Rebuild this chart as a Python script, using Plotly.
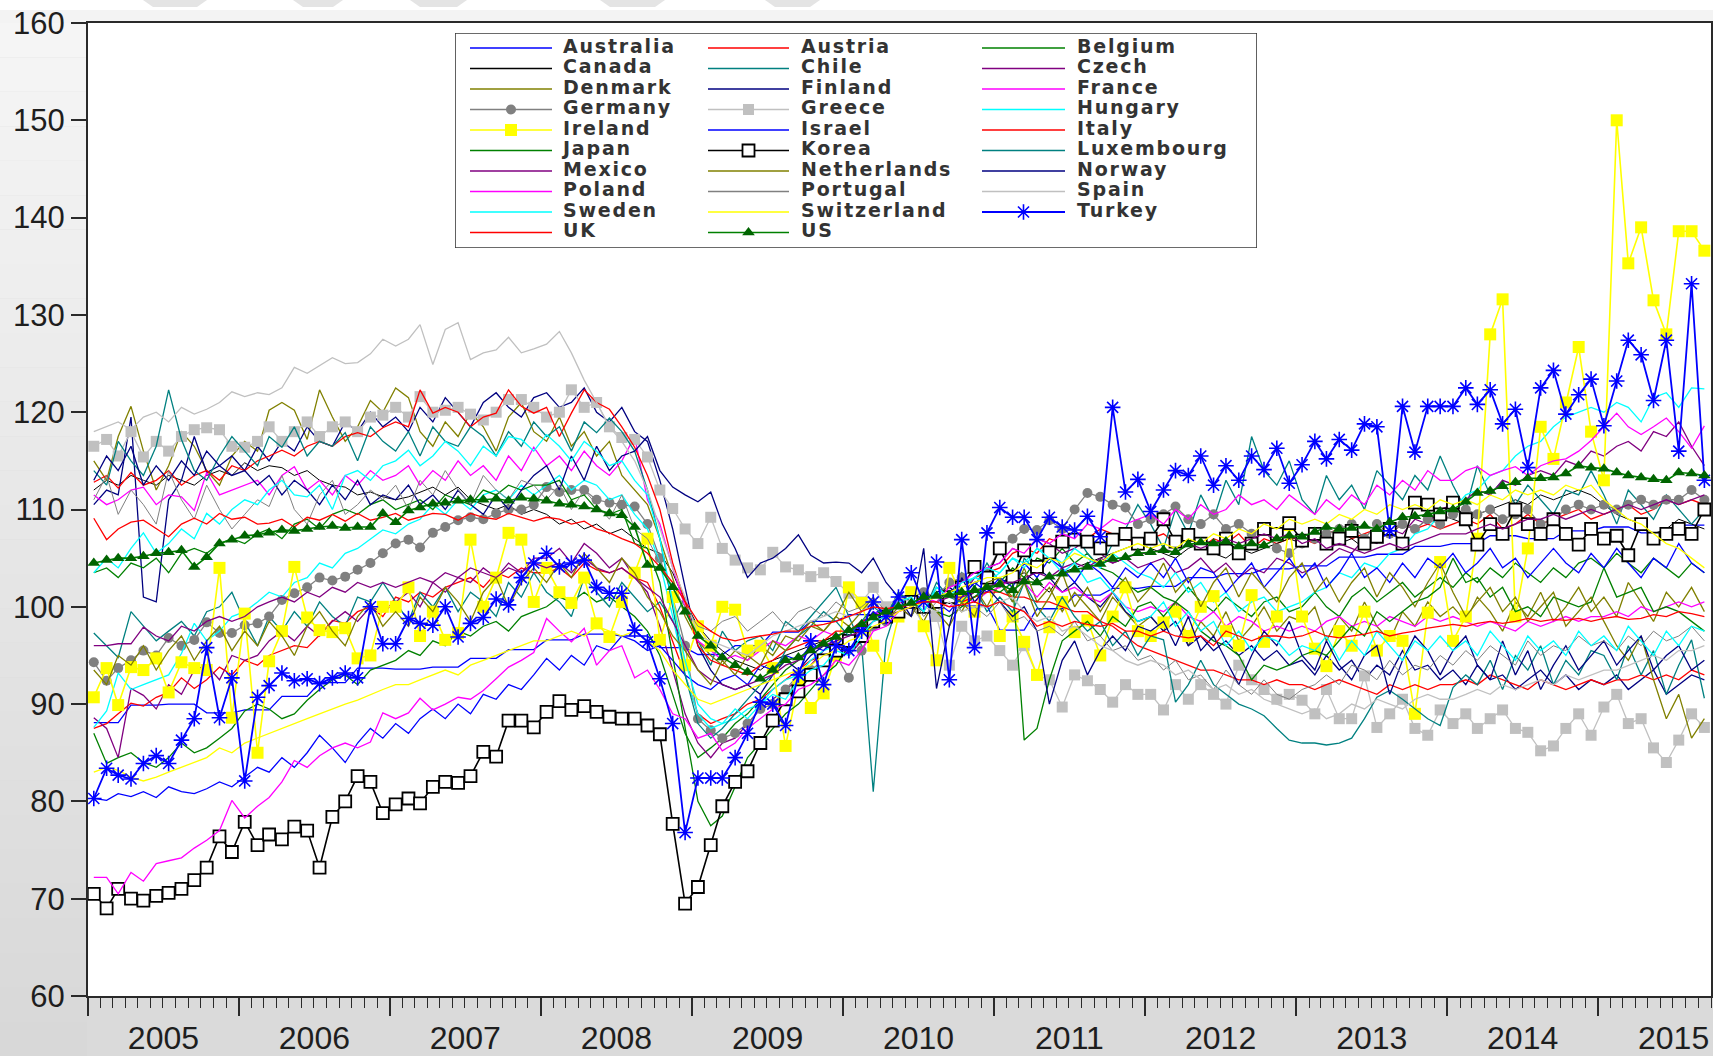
import plotly.graph_objects as go

# ---------------------------------------------------------------
# Monthly industrial production indices (2010 = 100), 2005M01-2015M09
# ---------------------------------------------------------------
years = list(range(2005, 2016))
month_dates = [f"{y}-{m:02d}-15" for y in years for m in range(1, 13)][:129]

australia = [
    88.1, 88.1, 88.1, 89.9, 89.9, 89.9, 90.0, 90.0, 90.0, 89.1, 89.1, 89.1,
    89.4, 89.4, 89.4, 90.8, 90.8, 90.8, 92.2, 92.2, 92.2, 93.7, 93.7, 93.7,
    93.6, 93.6, 93.6, 93.8, 93.8, 93.8, 94.7, 94.7, 94.7, 95.6, 95.6, 95.6,
    96.6, 96.6, 96.6, 97.2, 97.2, 97.2, 97.0, 97.0, 97.0, 95.8, 95.8, 95.8,
    95.1, 95.1, 95.1, 96.0, 96.0, 96.0, 97.4, 97.4, 97.4, 98.5, 98.5, 98.5,
    99.2, 99.2, 99.2, 100.1, 100.1, 100.1, 100.6, 100.6, 100.6, 100.1, 100.1, 100.1,
    97.6, 97.6, 97.6, 99.8, 99.8, 99.8, 101.2, 101.2, 101.2, 101.9, 101.9, 101.9,
    102.1, 102.1, 102.1, 103.0, 103.0, 103.0, 103.4, 103.4, 103.4, 103.9, 103.9, 103.9,
    104.2, 104.2, 104.2, 105.1, 105.1, 105.1, 105.4, 105.4, 105.4, 106.2, 106.2, 106.2,
    106.5, 106.5, 106.5, 107.3, 107.3, 107.3, 107.0, 107.0, 107.0, 107.8, 107.8, 107.8,
    108.2, 108.2, 108.2, 107.6, 107.6, 107.6, 108.4, 108.4, 108.4,
]
austria = [
    87.5, 88.0, 89.0, 90.1, 89.8, 90.7, 91.2, 92.7, 91.6, 92.5, 93.8, 93.0,
    94.5, 94.0, 95.0, 95.5, 96.0, 95.8, 97.1, 98.6, 98.3, 99.5, 100.0, 99.0,
    101.0, 100.5, 101.5, 101.0, 102.0, 102.5, 103.0, 102.0, 103.5, 103.0, 104.0, 103.5,
    103.5, 104.0, 103.0, 104.5, 103.8, 103.5, 104.0, 103.0, 102.5, 100.0, 96.5, 93.0,
    89.0, 88.0, 88.5, 89.0, 90.0, 90.5, 91.5, 92.5, 93.5, 94.5, 95.0, 95.5,
    95.5, 96.5, 98.0, 98.5, 99.5, 100.0, 101.0, 100.5, 101.5, 102.0, 103.0, 103.5,
    104.0, 105.5, 106.0, 105.5, 107.0, 106.5, 107.5, 107.0, 108.0, 107.5, 107.0, 106.5,
    107.0, 107.5, 106.5, 107.5, 106.0, 107.0, 106.5, 107.5, 106.0, 107.0, 106.5, 107.0,
    107.0, 106.5, 107.5, 108.0, 107.0, 107.5, 108.0, 107.5, 108.5, 108.0, 108.5, 108.0,
    108.5, 109.0, 108.5, 109.5, 108.0, 108.5, 109.5, 108.5, 109.0, 109.5, 110.0, 109.0,
    109.5, 110.0, 110.5, 109.5, 110.0, 111.0, 110.5, 111.0, 110.5,
]
belgium = [
    87.0, 83.9, 84.5, 85.0, 84.0, 83.5, 84.5, 86.0, 85.0, 85.5, 86.5, 87.5,
    89.3, 90.0, 89.5, 88.5, 89.0, 90.4, 91.5, 92.5, 93.0, 92.0, 93.5, 94.0,
    94.5, 95.5, 95.0, 96.5, 96.0, 97.5, 97.0, 98.0, 98.5, 97.5, 99.0, 99.5,
    100.0, 101.0, 100.5, 101.5, 100.5, 101.0, 100.0, 99.0, 97.5, 95.0, 91.0, 87.0,
    84.5, 85.5, 86.5, 88.0, 89.0, 90.5, 92.0, 93.5, 94.5, 95.5, 96.5, 97.0,
    97.5, 98.5, 99.0, 100.0, 99.5, 100.5, 101.0, 100.0, 101.5, 100.5, 101.0, 101.5,
    102.5, 104.0, 103.0, 105.0, 104.5, 106.0, 104.5, 105.5, 104.0, 103.5, 102.5, 101.5,
    102.0, 101.0, 100.5, 102.0, 100.5, 99.5, 101.0, 100.0, 99.0, 100.5, 101.0, 99.5,
    100.0, 101.5, 100.0, 99.0, 101.0, 102.0, 100.5, 101.5, 102.5, 101.0, 102.0, 103.0,
    102.0, 103.5, 102.5, 104.0, 103.0, 104.5, 103.5, 102.5, 104.0, 103.0, 104.5, 105.0,
    104.0, 105.5, 104.5, 103.5, 105.0, 104.0, 103.0, 104.5, 103.5,
]
canada = [
    112.0, 113.0, 112.5, 113.5, 113.0, 112.5, 113.5, 113.0, 112.5, 113.5, 114.0, 113.5,
    114.8, 114.0, 114.5, 114.3, 113.5, 114.0, 113.0, 112.5, 112.3, 111.5, 111.8, 111.3,
    111.0, 111.3, 111.8, 112.3, 111.5, 112.3, 111.0, 110.5, 110.0, 110.5, 109.5, 110.0,
    109.5, 108.5, 109.0, 108.0, 108.5, 107.5, 108.0, 107.0, 106.0, 105.5, 103.5, 100.5,
    98.0, 96.5, 95.5, 94.5, 94.0, 93.5, 94.5, 95.0, 95.5, 96.0, 96.5, 97.0,
    97.5, 98.5, 99.0, 99.5, 100.0, 100.5, 100.0, 100.5, 101.0, 100.5, 101.5, 102.0,
    102.5, 103.0, 103.5, 102.5, 101.5, 103.5, 104.0, 104.5, 105.0, 105.5, 106.0, 106.5,
    106.0, 105.5, 105.0, 106.0, 106.5, 105.5, 105.0, 106.0, 105.5, 106.0, 106.5, 107.0,
    106.5, 107.0, 107.5, 106.5, 107.0, 106.0, 107.5, 108.0, 108.5, 108.0, 109.0, 109.5,
    109.0, 108.5, 109.5, 110.0, 110.5, 111.0, 110.5, 111.5, 111.0, 111.5, 112.0, 111.5,
    110.5, 109.5, 109.0, 108.5, 107.5, 108.0, 109.0, 108.5, 108.0,
]
chile = [
    97.3, 96.0, 94.8, 99.5, 98.0, 96.5, 97.5, 98.5, 97.0, 99.5, 100.0, 101.5,
    98.5, 96.0, 99.0, 97.5, 99.5, 98.0, 100.5, 99.0, 98.0, 101.0, 100.5, 102.5,
    100.5, 98.5, 101.5, 100.0, 102.0, 99.5, 101.5, 100.5, 99.0, 102.5, 101.0, 103.5,
    101.5, 100.5, 99.0, 103.0, 101.5, 100.0, 102.5, 101.0, 99.5, 100.5, 98.5, 101.0,
    96.5, 94.0, 97.5, 95.5, 96.5, 97.0, 95.5, 98.5, 97.5, 99.0, 100.5, 102.0,
    99.0, 96.0, 81.0, 96.5, 100.5, 101.5, 99.5, 102.5, 101.0, 103.5, 102.0, 104.5,
    102.5, 100.5, 105.0, 103.5, 106.0, 104.0, 107.5, 105.5, 104.0, 106.5, 108.0, 110.5,
    108.5, 106.0, 110.0, 107.5, 111.5, 109.0, 113.0, 110.5, 117.5, 114.0, 112.5, 115.0,
    111.0, 109.5, 113.5, 111.0, 112.5, 110.0, 114.0, 112.5, 111.0, 113.5, 112.0, 115.5,
    112.5, 110.0, 114.5, 111.5, 113.0, 110.5, 112.5, 111.0, 109.5, 112.0, 111.5, 114.0,
    111.5, 108.5, 112.0, 110.5, 109.0, 111.5, 110.0, 108.5, 110.0,
]
czech = [
    88.6, 87.5, 84.5, 91.6, 90.9, 89.5, 92.0, 91.0, 93.5, 94.0, 92.5, 95.0,
    94.5, 95.0, 96.5, 97.5, 96.5, 98.0, 97.0, 98.5, 99.5, 98.5, 100.0, 99.5,
    100.5, 101.5, 100.0, 102.5, 101.5, 103.0, 102.5, 104.0, 103.0, 104.5, 103.5, 105.0,
    105.0, 106.0, 104.5, 106.5, 105.5, 104.0, 105.0, 103.0, 101.5, 98.0, 93.5, 89.0,
    86.0, 84.5, 86.0, 86.5, 88.0, 89.5, 90.5, 91.5, 92.5, 94.0, 95.5, 96.5,
    95.0, 96.5, 98.0, 99.5, 99.0, 100.5, 100.0, 101.5, 102.0, 101.0, 103.0, 104.0,
    104.5, 106.0, 105.5, 107.0, 106.5, 105.5, 106.0, 107.0, 105.5, 104.5, 105.0, 104.0,
    104.5, 105.0, 103.5, 104.0, 105.0, 103.5, 104.5, 103.0, 104.0, 103.5, 105.0, 104.5,
    103.5, 104.0, 105.0, 106.0, 105.5, 107.0, 106.5, 108.0, 107.5, 109.0, 108.5, 110.0,
    110.5, 111.0, 112.0, 111.5, 113.0, 112.5, 113.5, 114.0, 113.5, 115.0, 114.5, 116.0,
    115.5, 116.5, 117.0, 116.0, 118.0, 117.5, 119.0, 116.5, 114.5,
]
denmark = [
    115.0, 113.0, 117.5, 120.6, 116.0, 112.0, 114.5, 118.0, 116.5, 114.0, 112.5, 115.5,
    117.0, 116.0, 120.2, 121.0, 120.2, 117.2, 122.3, 119.5, 117.0, 118.5, 121.2, 120.0,
    122.5, 121.5, 118.0, 116.5, 119.0, 117.5, 120.0, 118.5, 116.0, 119.5, 121.0, 118.0,
    117.0, 119.5, 116.5, 118.0, 115.5, 117.0, 113.5, 112.0, 110.5, 107.0, 103.0, 99.0,
    96.5, 95.0, 94.0, 95.5, 94.5, 96.0, 95.0, 97.0, 96.5, 98.0, 97.5, 99.0,
    98.0, 99.5, 100.5, 99.0, 101.5, 100.0, 98.5, 101.0, 100.5, 99.5, 102.0, 100.0,
    102.5, 101.0, 104.0, 100.5, 102.0, 99.5, 101.5, 100.0, 98.5, 101.0, 99.5, 98.0,
    99.0, 97.5, 100.5, 96.0, 98.5, 97.0, 99.5, 96.5, 98.0, 100.0, 97.5, 99.0,
    98.5, 100.0, 96.5, 99.0, 97.5, 100.5, 98.0, 96.5, 99.5, 98.0, 100.5, 99.0,
    100.0, 98.5, 101.0, 99.5, 97.5, 100.5, 99.0, 101.5, 98.5, 100.0, 102.0, 99.5,
    101.0, 99.0, 102.5, 100.5, 98.5, 101.5, 100.0, 102.0, 99.5,
]
finland = [
    110.5, 112.0, 111.5, 119.5, 101.0, 100.5, 111.0, 113.0, 117.5, 113.8, 114.5, 115.5,
    114.0, 116.5, 115.0, 117.0, 116.0, 118.5, 117.0, 116.5, 119.0, 118.0, 120.0, 118.5,
    119.5, 118.0, 120.5, 119.0, 121.5, 120.0, 118.5, 121.0, 122.0, 120.5, 119.5, 121.5,
    122.0, 120.5, 121.0, 122.5, 120.0, 119.0, 120.5, 118.0, 117.0, 113.0, 108.0, 102.0,
    96.0, 93.5, 92.0, 91.5, 92.0, 91.0, 93.0, 94.5, 93.5, 95.0, 96.0, 95.5,
    96.5, 97.5, 98.0, 99.5, 100.5, 101.0, 99.5, 101.5, 102.0, 101.0, 102.5, 103.0,
    102.0, 103.5, 102.5, 104.0, 103.0, 101.5, 102.5, 101.0, 100.0, 101.5, 99.5, 98.5,
    99.0, 97.5, 98.5, 96.0, 97.0, 95.5, 96.5, 95.0, 96.0, 94.5, 95.5, 94.0,
    94.5, 93.0, 95.0, 93.5, 94.5, 92.5, 94.0, 93.0, 95.5, 93.5, 94.0, 92.5,
    93.5, 92.0, 94.0, 92.5, 93.0, 91.5, 92.5, 93.5, 92.0, 93.0, 91.5, 92.5,
    92.0, 93.0, 91.5, 92.5, 93.5, 91.0, 92.0, 93.0, 92.5,
]
france = [
    111.5, 110.5, 111.0, 112.0, 112.3, 110.5, 111.5, 111.3, 109.9, 113.8, 111.5, 112.0,
    112.5, 113.0, 111.5, 113.5, 114.4, 112.0, 113.0, 111.5, 113.5, 112.5, 114.0, 113.0,
    113.5, 114.5, 112.5, 114.0, 113.0, 115.0, 113.5, 114.5, 113.0, 115.5, 114.0, 116.4,
    114.5, 115.5, 114.0, 116.0, 114.5, 113.5, 115.0, 117.5, 111.0, 108.5, 104.0, 100.0,
    96.5, 95.5, 94.5, 95.0, 94.5, 95.5, 96.5, 96.0, 97.0, 96.5, 97.5, 97.0,
    97.5, 98.0, 99.5, 99.0, 100.5, 100.0, 101.0, 100.5, 100.0, 101.0, 100.5, 101.5,
    102.0, 103.0, 102.5, 101.0, 102.5, 101.5, 102.0, 101.0, 100.5, 101.5, 100.0, 99.5,
    100.0, 99.5, 100.5, 99.0, 98.5, 99.5, 98.0, 99.0, 98.5, 97.5, 98.0, 97.5,
    98.0, 97.5, 98.5, 99.0, 98.0, 98.5, 98.0, 99.0, 98.5, 98.0, 99.0, 98.5,
    99.0, 98.5, 98.0, 98.5, 98.0, 97.5, 98.5, 98.0, 98.5, 99.0, 98.5, 99.0,
    99.0, 99.5, 99.0, 100.0, 99.5, 100.0, 100.5, 100.0, 100.5,
]
germany = [
    94.3, 92.4, 93.7, 94.5, 95.5, 95.0, 96.8, 96.0, 96.6, 98.4, 97.3, 97.3,
    98.1, 98.3, 99.0, 100.7, 101.4, 102.0, 103.0, 102.7, 103.1, 103.8, 104.5, 105.5,
    106.5, 106.9, 106.1, 107.6, 108.2, 108.9, 109.2, 109.0, 109.6, 110.0, 110.0, 110.5,
    112.3, 111.8, 112.0, 112.0, 111.0, 110.7, 110.5, 110.3, 108.5, 105.0, 101.0, 96.0,
    88.5, 87.3, 86.5, 87.0, 88.0, 89.5, 90.0, 91.5, 93.0, 93.5, 94.5, 95.0,
    92.7, 95.5, 98.0, 98.5, 99.5, 101.0, 101.5, 101.0, 102.5, 103.0, 104.0, 103.5,
    106.0, 107.0, 108.0, 107.9, 108.9, 108.0, 110.0, 111.7, 111.3, 110.5, 110.2, 108.5,
    109.0, 109.5, 110.3, 109.0, 108.5, 109.5, 108.0, 108.5, 107.5, 108.0, 106.0, 105.5,
    106.5, 107.0, 107.5, 108.0, 108.5, 107.0, 108.5, 107.5, 108.5, 108.0, 109.0, 108.5,
    109.5, 110.0, 109.5, 110.0, 109.0, 109.5, 110.0, 108.5, 109.0, 110.0, 110.5, 110.0,
    110.5, 110.0, 110.5, 111.0, 110.5, 111.0, 111.0, 112.0, 111.0,
]
greece = [
    116.5, 117.2, 115.5, 118.0, 115.4, 117.0, 116.0, 117.5, 118.2, 118.4, 118.2, 116.5,
    116.4, 117.0, 118.5, 117.0, 118.0, 119.0, 117.5, 118.5, 119.0, 118.0, 119.5, 119.7,
    120.5, 119.5, 121.6, 120.0, 120.2, 120.5, 119.8, 119.2, 120.0, 121.3, 121.3, 120.5,
    119.5, 120.0, 122.3, 120.5, 121.0, 118.5, 117.4, 117.2, 115.4, 112.0, 110.1, 108.0,
    106.5, 109.2, 106.0, 104.8, 104.0, 103.8, 105.6, 104.1, 103.8, 103.1, 103.5, 102.6,
    101.4, 100.5, 102.0, 100.0, 99.0, 100.5, 98.0, 99.0, 94.0, 98.0, 96.5, 97.0,
    95.5, 94.0, 96.0, 93.0, 92.5, 89.7, 93.0, 92.4, 91.5, 90.2, 92.0, 91.0,
    91.0, 89.4, 92.0, 90.5, 92.0, 91.0, 90.0, 94.0, 92.5, 91.5, 90.5, 91.0,
    90.4, 89.0, 91.5, 88.5, 88.5, 92.9, 87.6, 89.0, 90.5, 87.5, 86.8, 89.4,
    88.0, 89.0, 87.5, 88.5, 89.4, 87.5, 87.1, 85.2, 85.7, 87.5, 89.0, 86.8,
    89.7, 91.0, 88.0, 88.5, 85.5, 84.0, 86.3, 89.0, 87.6,
]
hungary = [
    87.6, 89.3, 93.2, 91.5, 92.0, 92.5, 93.0, 95.2, 98.3, 96.5, 97.5, 99.0,
    99.5, 100.5, 101.5, 101.0, 102.5, 103.0, 104.5, 104.0, 105.5, 106.0, 107.0, 107.9,
    107.5, 108.5, 109.0, 110.5, 109.5, 111.0, 110.0, 111.5, 112.0, 111.0, 112.5, 111.5,
    112.5, 113.5, 112.0, 113.0, 112.5, 111.0, 111.5, 109.5, 108.0, 104.5, 99.0, 93.0,
    89.0, 87.5, 88.0, 88.5, 89.5, 90.0, 91.5, 92.5, 93.0, 94.5, 95.5, 96.0,
    95.5, 97.0, 98.5, 99.0, 100.0, 101.0, 100.5, 101.5, 101.0, 102.0, 103.0, 102.5,
    103.5, 105.0, 104.5, 106.0, 105.5, 104.5, 106.0, 105.0, 104.0, 105.5, 104.5, 103.5,
    103.0, 102.0, 103.5, 101.5, 102.5, 100.5, 101.5, 99.5, 100.5, 101.0, 99.5, 100.0,
    100.5, 101.5, 102.0, 103.5, 103.0, 104.5, 104.0, 105.5, 106.0, 107.5, 108.0, 109.5,
    110.0, 111.5, 112.0, 113.5, 114.0, 115.5, 116.5, 117.0, 118.5, 119.5, 120.0, 120.5,
    120.0, 121.0, 120.5, 119.0, 121.5, 122.0, 120.5, 122.5, 122.4,
]
ireland = [
    90.7, 93.7, 89.9, 93.8, 93.5, 94.7, 91.2, 94.3, 93.7, 93.5, 104.0, 88.6,
    99.3, 85.0, 94.4, 97.5, 104.1, 98.9, 97.6, 97.4, 97.8, 94.7, 95.0, 100.0,
    100.0, 102.0, 97.0, 99.5, 96.6, 97.3, 106.9, 100.0, 103.0, 107.6, 106.9, 100.5,
    104.0, 101.5, 100.4, 103.0, 98.3, 96.9, 100.5, 103.5, 107.0, 96.6, 101.0, 94.0,
    98.0, 96.0, 100.0, 99.7, 95.5, 96.0, 93.7, 85.7, 92.0, 89.6, 91.1, 95.0,
    102.0, 100.4, 96.0, 93.7, 99.0, 101.5, 98.0, 94.5, 104.0, 101.0, 99.5, 103.0,
    97.0, 99.0, 96.4, 93.0, 97.9, 100.5, 97.4, 98.6, 95.0, 99.0, 102.0, 97.5,
    97.0, 98.4, 99.5, 97.0, 100.0, 101.1, 97.5, 96.0, 101.2, 96.4, 99.0, 108.4,
    99.0, 95.7, 93.9, 97.5, 96.0, 99.5, 95.5, 97.0, 96.5, 89.0, 99.4, 104.6,
    96.5, 99.0, 107.0, 128.0, 131.6, 99.0, 106.0, 118.5, 115.2, 121.0, 126.7, 118.0,
    113.0, 150.0, 135.3, 139.0, 131.5, 128.0, 138.6, 138.6, 136.6,
]
israel = [
    80.3, 80.1, 80.8, 80.5, 81.0, 80.4, 81.5, 81.0, 80.8, 81.3, 82.0, 81.5,
    82.5, 83.5, 83.0, 84.5, 83.5, 85.0, 86.8, 85.5, 84.0, 86.0, 87.5, 86.5,
    88.0, 87.0, 88.5, 89.5, 88.5, 90.0, 89.0, 91.0, 90.5, 92.0, 91.5, 93.0,
    94.7, 93.5, 95.0, 94.0, 96.0, 95.5, 97.0, 96.5, 95.5, 96.0, 94.5, 93.0,
    92.0, 91.5, 92.5, 93.0, 92.0, 94.0, 93.5, 95.0, 94.5, 96.0, 95.5, 97.0,
    97.5, 98.0, 99.5, 98.5, 100.0, 99.0, 101.5, 100.5, 99.5, 101.0, 102.5, 101.5,
    103.0, 102.0, 104.5, 103.0, 105.0, 104.0, 102.5, 104.5, 103.5, 102.0, 104.0, 103.0,
    104.5, 103.0, 105.0, 102.5, 104.0, 103.5, 101.5, 103.0, 104.5, 102.0, 103.5, 105.0,
    103.0, 104.5, 102.0, 103.5, 105.5, 103.0, 104.0, 102.5, 104.5, 103.0, 105.0, 104.0,
    105.5, 103.5, 104.5, 106.0, 104.0, 105.0, 103.0, 104.5, 106.0, 104.5, 103.5, 105.5,
    104.0, 106.0, 104.5, 103.0, 105.0, 104.0, 106.5, 104.5, 103.5,
]
italy = [
    112.8, 113.5, 112.2, 113.8, 112.5, 113.0, 114.0, 112.5, 113.5, 114.0, 113.0, 114.5,
    114.0, 115.0, 115.5, 116.1, 115.5, 116.5, 117.0, 116.5, 117.5, 117.9, 117.5, 118.4,
    119.0, 118.5, 122.3, 119.9, 120.5, 120.0, 118.5, 119.5, 119.9, 122.3, 120.6, 119.9,
    120.5, 117.5, 119.9, 122.3, 121.0, 120.3, 118.5, 116.4, 113.5, 110.0, 104.5, 100.5,
    96.0, 94.5, 94.0, 93.5, 93.0, 94.0, 94.5, 95.5, 96.0, 96.5, 96.5, 97.5,
    97.5, 98.5, 99.0, 99.5, 100.0, 100.5, 101.0, 100.5, 101.5, 100.5, 101.0, 101.5,
    101.5, 101.0, 101.0, 100.5, 100.5, 100.0, 99.5, 99.5, 98.5, 98.0, 97.0, 96.0,
    95.5, 95.0, 94.5, 94.0, 93.5, 93.5, 93.0, 92.5, 92.5, 92.0, 92.5, 92.0,
    92.0, 91.5, 92.0, 92.5, 92.0, 91.5, 91.0, 92.0, 91.5, 92.0, 91.5, 92.0,
    92.0, 92.5, 92.0, 93.0, 92.5, 92.0, 91.5, 92.5, 92.0, 91.5, 92.0, 92.5,
    92.0, 92.5, 92.5, 93.0, 92.5, 93.0, 92.5, 93.5, 93.0,
]
japan = [
    103.5, 104.0, 103.0, 104.5, 104.0, 105.0, 103.5, 105.5, 106.0, 105.5, 106.5, 107.0,
    106.5, 107.5, 108.0, 107.0, 108.5, 109.0, 108.0, 109.5, 110.0, 109.5, 110.5, 111.0,
    110.0, 110.5, 111.0, 110.0, 111.5, 111.0, 110.5, 112.0, 111.5, 112.5, 112.0, 112.5,
    112.5, 113.0, 111.0, 111.5, 110.0, 109.5, 110.0, 106.5, 106.0, 102.5, 95.0, 87.5,
    80.0, 77.5, 78.5, 81.5, 84.5, 86.0, 87.5, 89.0, 90.0, 91.5, 93.0, 94.0,
    96.0, 97.0, 98.0, 99.0, 99.5, 100.0, 100.5, 99.5, 99.0, 100.0, 101.0, 102.0,
    101.5, 102.5, 86.3, 87.5, 92.5, 96.5, 97.5, 98.5, 97.0, 99.0, 98.0, 100.0,
    100.5, 99.0, 100.5, 99.5, 97.5, 96.5, 96.0, 95.0, 92.5, 94.0, 93.5, 94.0,
    95.0, 95.5, 95.0, 96.5, 98.0, 97.0, 99.5, 98.5, 99.5, 100.5, 101.0, 102.0,
    105.0, 102.5, 103.0, 101.0, 102.0, 99.5, 100.0, 99.0, 101.0, 100.5, 100.0, 100.5,
    104.0, 101.0, 101.5, 102.0, 99.5, 100.0, 99.5, 98.5, 97.5,
]
korea = [
    70.5, 69.0, 71.0, 70.0, 69.8, 70.3, 70.6, 71.0, 71.9, 73.2, 76.4, 74.8,
    77.9, 75.5, 76.6, 76.1, 77.4, 77.0, 73.2, 78.4, 80.0, 82.6, 82.0, 78.8,
    79.7, 80.3, 79.8, 81.5, 82.0, 81.9, 82.6, 85.1, 84.6, 88.3, 88.3, 87.6,
    89.2, 90.3, 89.4, 89.8, 89.2, 88.7, 88.5, 88.5, 87.8, 86.9, 77.7, 69.5,
    71.2, 75.5, 79.5, 82.0, 83.1, 86.0, 88.3, 90.5, 91.3, 93.0, 94.5, 95.5,
    96.5, 97.0, 98.5, 99.0, 99.5, 100.5, 100.0, 100.5, 101.0, 102.0, 104.1, 103.0,
    106.0, 103.1, 105.8, 104.1, 105.6, 106.7, 106.9, 106.7, 106.0, 106.9, 107.5, 106.5,
    107.0, 109.0, 106.7, 107.4, 106.5, 106.0, 107.0, 105.5, 106.5, 108.0, 107.5, 108.6,
    106.8, 107.5, 106.5, 107.0, 107.8, 106.5, 107.2, 108.0, 106.5, 110.7, 110.5, 109.5,
    110.7, 109.0, 106.4, 108.5, 107.5, 110.0, 108.5, 107.5, 109.0, 107.5, 106.4, 108.0,
    107.0, 107.3, 105.3, 108.5, 107.0, 107.5, 108.0, 107.5, 110.0,
]
luxembourg = [
    114.0, 112.5, 117.0, 115.0, 113.5, 116.5, 122.3, 117.2, 114.0, 113.0, 115.5, 117.5,
    116.0, 114.5, 117.5, 116.4, 118.5, 115.5, 117.0, 116.5, 117.9, 115.0, 118.5, 117.0,
    116.0, 118.0, 115.5, 118.5, 117.0, 116.5, 118.5, 117.5, 115.5, 118.0, 116.5, 119.0,
    117.5, 118.5, 116.0, 119.0, 117.9, 119.4, 118.0, 116.0, 112.0, 107.0, 100.0, 93.0,
    88.0, 86.5, 87.5, 89.0, 90.5, 92.0, 93.0, 95.5, 97.0, 98.0, 99.5, 98.5,
    97.0, 98.5, 100.0, 99.0, 101.5, 100.5, 99.5, 102.0, 101.0, 100.5, 102.0, 99.5,
    101.0, 99.5, 102.5, 100.0, 98.5, 101.0, 99.0, 97.5, 98.5, 96.0, 97.5, 95.0,
    97.0, 96.6, 90.2, 92.0, 94.5, 92.0, 91.0, 90.0, 89.5, 88.8, 87.5, 86.3,
    86.0, 86.0, 85.8, 86.0, 86.5, 88.5, 90.7, 91.4, 90.5, 89.5, 88.5, 87.8,
    91.7, 93.0, 92.0, 94.5, 91.5, 95.0, 93.5, 96.0, 92.0, 94.5, 93.0, 95.5,
    95.0, 92.5, 96.0, 93.0, 95.5, 91.0, 94.0, 96.6, 90.6,
]
mexico = [
    96.0, 96.0, 96.2, 96.2, 97.9, 97.0, 96.5, 98.0, 97.5, 98.5, 99.0, 98.5,
    99.0, 100.0, 100.5, 101.0, 100.5, 101.5, 101.0, 102.0, 101.5, 102.5, 102.0, 102.5,
    102.0, 102.5, 103.0, 102.5, 103.5, 103.0, 104.0, 103.5, 103.0, 104.0, 103.5, 104.5,
    104.0, 104.5, 103.5, 105.0, 104.0, 103.5, 104.0, 103.0, 102.0, 101.0, 98.5, 96.0,
    93.5, 92.5, 92.0, 91.5, 92.0, 92.5, 93.0, 94.0, 94.5, 95.5, 96.0, 96.5,
    97.0, 97.5, 98.5, 99.0, 99.5, 100.0, 100.5, 100.5, 101.0, 101.0, 101.5, 102.0,
    102.5, 102.5, 103.0, 103.5, 103.0, 104.0, 104.5, 104.0, 105.0, 104.5, 105.0, 105.5,
    105.5, 106.0, 105.5, 106.5, 106.0, 106.5, 107.0, 106.5, 107.0, 107.5, 107.0, 107.5,
    106.5, 107.0, 106.0, 106.5, 106.0, 105.5, 106.0, 106.5, 106.0, 106.5, 107.0, 107.5,
    107.5, 107.5, 108.0, 108.5, 108.0, 108.5, 109.0, 109.0, 109.5, 109.0, 109.5, 110.0,
    109.5, 110.0, 110.5, 110.0, 110.5, 111.0, 110.5, 111.0, 111.5,
]
netherlands = [
    93.5, 92.0, 95.0, 94.0, 96.0, 93.5, 95.5, 97.0, 94.5, 96.5, 98.0, 95.5,
    97.5, 96.0, 98.5, 97.0, 95.0, 98.0, 99.5, 97.5, 96.0, 99.0, 100.5, 98.0,
    99.5, 98.0, 101.0, 99.5, 102.0, 100.5, 98.5, 101.5, 103.0, 100.0, 102.5, 104.0,
    102.5, 104.5, 103.0, 105.5, 104.0, 102.5, 105.0, 103.5, 101.0, 99.5, 97.0, 95.5,
    93.5, 92.0, 94.5, 93.0, 95.0, 94.0, 96.5, 95.5, 97.0, 98.5, 97.5, 99.0,
    101.5, 99.5, 101.0, 98.5, 100.0, 99.0, 101.5, 99.5, 98.0, 100.5, 99.0, 102.5,
    103.0, 100.5, 102.5, 99.0, 101.0, 103.5, 100.0, 102.0, 99.5, 101.5, 103.0, 100.5,
    102.0, 104.5, 101.5, 103.0, 100.0, 102.5, 104.0, 101.0, 103.5, 102.0, 100.5, 103.0,
    104.5, 101.5, 103.0, 100.5, 102.5, 104.0, 101.0, 103.5, 102.0, 100.0, 102.5, 104.5,
    101.5, 99.0, 100.5, 102.0, 99.5, 101.0, 98.5, 100.0, 101.5, 98.0, 99.5, 101.0,
    98.5, 96.0, 94.5, 97.0, 92.5, 88.5, 91.0, 86.5, 88.5,
]
norway = [
    113.0, 115.5, 114.0, 116.5, 112.5, 114.5, 113.0, 115.0, 113.5, 116.0, 114.5, 113.5,
    114.0, 112.5, 113.5, 111.5, 113.0, 112.0, 110.5, 112.5, 111.0, 113.0, 110.5, 111.5,
    111.0, 112.5, 110.5, 111.5, 110.0, 112.0, 110.5, 109.5, 111.5, 110.0, 112.0, 113.5,
    114.5, 112.0, 115.5, 113.0, 116.5, 114.0, 115.5, 116.0, 117.5, 114.0, 112.3, 111.5,
    110.8, 111.8, 108.5, 106.0, 103.0, 104.5, 105.0, 106.0, 107.4, 105.3, 104.5, 104.6,
    104.5, 103.5, 105.0, 102.5, 101.0, 99.0, 106.0, 91.6, 98.0, 103.0, 100.5, 102.0,
    100.5, 99.0, 100.0, 97.5, 90.0, 94.5, 96.5, 93.0, 95.5, 97.0, 95.5, 98.0,
    97.5, 98.5, 96.0, 99.0, 95.5, 97.0, 94.5, 92.0, 95.0, 97.5, 96.0, 98.5,
    95.0, 93.5, 96.5, 94.0, 92.5, 95.0, 96.0, 91.0, 94.5, 97.0, 95.5, 93.0,
    95.5, 97.0, 94.0, 92.5, 96.5, 93.0, 95.5, 91.5, 94.0, 96.0, 93.5, 95.0,
    96.5, 94.0, 95.5, 97.0, 93.5, 95.0, 96.0, 93.5, 94.5,
]
poland = [
    72.2, 72.2, 70.5, 72.7, 71.8, 73.6, 73.9, 74.2, 75.2, 76.0, 77.0, 80.1,
    78.3, 79.5, 80.4, 82.0, 84.2, 83.5, 84.7, 85.5, 86.0, 85.5, 86.1, 89.1,
    88.5, 89.1, 90.6, 89.4, 90.0, 90.7, 90.5, 91.4, 92.6, 93.8, 94.5, 95.3,
    98.8, 97.5, 96.4, 97.8, 94.0, 95.5, 96.0, 92.7, 93.5, 91.5, 89.0, 88.5,
    86.5, 87.0, 85.2, 86.0, 87.5, 88.5, 89.5, 90.0, 91.5, 92.0, 93.0, 94.5,
    94.0, 95.5, 97.5, 98.0, 99.5, 100.0, 101.0, 100.5, 102.0, 102.5, 103.5, 104.0,
    104.5, 106.0, 105.5, 107.0, 106.5, 107.5, 107.0, 108.5, 108.0, 109.0, 108.5, 109.0,
    109.5, 108.5, 110.0, 109.0, 110.5, 109.5, 110.0, 111.5, 110.5, 111.0, 110.0, 111.5,
    110.5, 109.5, 111.0, 110.0, 111.5, 110.5, 112.5, 111.5, 113.0, 112.0, 114.0, 113.0,
    113.0, 114.0, 114.4, 113.5, 114.0, 114.4, 113.5, 114.5, 115.0, 115.2, 116.0, 117.1,
    118.5, 119.9, 118.5, 117.7, 118.5, 119.4, 118.0, 116.3, 118.6,
]
portugal = [
    111.0, 113.5, 109.5, 112.0, 110.5, 108.5, 114.0, 111.0, 109.0, 112.5, 110.0, 108.0,
    109.5, 111.0, 110.3, 113.5, 110.0, 108.5, 111.5, 113.0, 109.5, 110.5, 112.0, 111.0,
    112.5, 110.0, 113.0, 111.5, 114.0, 112.0, 110.5, 113.5, 112.0, 111.0, 113.0, 112.5,
    111.0, 112.5, 110.0, 112.0, 110.5, 109.0, 111.5, 108.0, 107.0, 104.5, 102.0, 100.0,
    98.0, 97.5, 98.5, 99.0, 97.5, 98.5, 99.5, 98.0, 99.5, 100.0, 99.0, 100.5,
    99.5, 100.0, 101.0, 99.5, 100.5, 101.0, 99.0, 100.5, 101.5, 99.5, 100.0, 99.0,
    100.5, 98.5, 99.0, 97.5, 98.0, 97.0, 98.5, 96.5, 97.0, 95.5, 96.0, 94.5,
    95.0, 93.5, 94.5, 92.5, 93.0, 91.5, 93.5, 92.0, 91.0, 92.5, 91.0, 90.5,
    91.5, 92.0, 93.0, 92.0, 94.0, 93.5, 92.5, 94.5, 93.0, 94.0, 93.5, 95.0,
    94.0, 95.5, 94.5, 96.0, 95.0, 94.0, 96.5, 95.0, 96.0, 95.5, 97.0, 96.0,
    96.5, 95.5, 97.0, 96.0, 97.5, 96.5, 97.0, 98.0, 96.5,
]
spain = [
    118.0, 118.5, 119.0, 118.2, 119.5, 120.0, 119.0, 120.5, 119.8, 120.3, 121.0, 122.1,
    121.6, 122.0, 121.8, 122.5, 124.6, 124.0, 124.8, 125.6, 125.0, 125.1, 126.0, 127.5,
    126.8, 127.5, 129.0, 124.9, 128.5, 129.2, 125.4, 126.1, 126.4, 127.7, 126.1, 126.5,
    127.0, 128.3, 126.1, 123.3, 121.0, 118.5, 117.0, 115.0, 112.0, 108.0, 104.0, 101.0,
    97.0, 96.5, 96.0, 95.5, 95.0, 96.0, 97.0, 97.5, 98.0, 98.5, 99.0, 99.5,
    99.0, 99.5, 100.5, 100.0, 101.0, 100.5, 100.0, 99.5, 100.5, 99.5, 100.0, 100.0,
    100.5, 101.0, 99.5, 98.5, 99.0, 97.5, 98.0, 97.0, 96.0, 95.5, 94.5, 94.0,
    94.5, 94.0, 93.0, 93.5, 92.5, 91.5, 92.0, 91.0, 91.5, 90.5, 90.0, 89.5,
    89.0, 89.5, 88.5, 89.0, 90.0, 89.5, 90.5, 90.0, 89.5, 90.5, 91.0, 90.5,
    90.5, 91.0, 91.5, 91.0, 92.0, 91.5, 92.0, 92.5, 92.0, 93.0, 92.5, 93.0,
    93.5, 93.5, 94.0, 94.5, 95.0, 94.5, 95.5, 95.5, 96.0,
]
sweden = [
    103.5, 105.0, 104.0, 106.0, 107.6, 105.5, 106.5, 108.0, 107.0, 109.6, 108.5, 110.0,
    111.0, 110.5, 112.0, 113.0, 111.5, 111.3, 112.5, 110.0, 113.5, 114.0, 113.0, 114.5,
    115.0, 116.1, 114.5, 115.5, 117.0, 116.0, 114.5, 116.5, 115.5, 117.5, 117.2, 116.0,
    117.7, 116.5, 115.0, 117.0, 116.0, 114.5, 115.0, 113.0, 111.5, 107.0, 100.5, 94.5,
    90.0, 88.5, 88.0, 89.5, 88.5, 90.0, 91.0, 90.5, 92.5, 93.5, 94.0, 95.5,
    95.0, 97.0, 98.5, 99.0, 100.5, 101.0, 99.5, 102.0, 101.0, 102.5, 103.0, 104.0,
    103.5, 105.0, 104.0, 106.0, 105.0, 103.5, 104.5, 102.5, 103.0, 101.5, 100.0, 98.5,
    99.0, 100.5, 98.0, 99.5, 97.5, 98.5, 96.0, 97.5, 95.5, 97.0, 96.5, 95.0,
    96.0, 95.5, 97.0, 94.5, 96.5, 95.0, 97.5, 96.0, 94.5, 96.5, 95.5, 97.0,
    95.5, 96.5, 95.0, 97.5, 96.0, 94.5, 97.0, 95.5, 96.5, 95.0, 97.5, 96.0,
    97.0, 95.5, 98.0, 96.5, 95.0, 97.5, 96.0, 98.0, 97.5,
]
switzerland = [
    83.0, 83.5, 83.2, 82.5, 82.1, 82.5, 83.0, 83.5, 84.0, 84.5, 85.5, 85.0,
    86.0, 86.5, 87.0, 87.5, 88.0, 88.5, 89.0, 89.5, 90.0, 90.4, 91.0, 91.5,
    92.0, 92.0, 92.5, 93.0, 93.5, 93.0, 94.0, 94.5, 95.0, 95.5, 96.0, 96.5,
    96.5, 97.0, 97.5, 97.0, 98.0, 97.5, 97.0, 97.5, 96.5, 95.5, 93.5, 92.0,
    90.5, 90.0, 90.5, 91.0, 91.5, 92.0, 92.5, 93.0, 93.5, 94.0, 95.0, 95.5,
    96.5, 97.0, 98.0, 98.5, 99.5, 100.0, 100.5, 101.0, 101.5, 102.0, 102.5, 103.0,
    103.0, 103.5, 104.5, 104.0, 105.0, 104.5, 105.5, 105.0, 104.5, 105.5, 106.0, 106.5,
    106.0, 106.5, 106.0, 107.0, 106.5, 107.5, 107.0, 108.0, 107.5, 108.5, 108.0, 109.0,
    108.5, 109.0, 108.5, 109.5, 109.0, 110.0, 109.5, 110.5, 110.0, 110.5, 110.0, 111.0,
    110.5, 111.0, 110.5, 111.5, 111.0, 112.0, 111.5, 112.0, 111.5, 112.5, 112.0, 112.5,
    111.0, 110.0, 109.0, 108.5, 107.5, 106.5, 106.0, 105.0, 104.0,
]
turkey = [
    80.3, 83.4, 82.7, 82.3, 83.9, 84.7, 83.9, 86.3, 88.5, 95.8, 88.6, 92.7,
    82.1, 90.7, 91.9, 93.2, 92.4, 92.6, 92.1, 92.7, 93.2, 92.7, 100.0, 96.2,
    96.2, 98.8, 98.3, 98.1, 100.0, 96.9, 98.3, 98.9, 100.8, 100.2, 103.0, 104.5,
    105.5, 104.1, 104.5, 104.8, 102.0, 101.4, 101.4, 97.6, 96.4, 92.6, 88.0, 76.8,
    82.4, 82.4, 82.4, 84.5, 87.0, 90.2, 90.0, 87.8, 93.0, 96.5, 92.0, 96.0,
    95.5, 97.5, 100.5, 99.0, 101.0, 103.5, 100.5, 104.6, 92.5, 106.9, 95.8, 107.6,
    110.2, 109.2, 109.2, 106.9, 109.2, 108.2, 107.9, 109.3, 107.2, 120.5, 111.8, 113.1,
    109.8, 112.0, 114.0, 113.5, 115.5, 112.5, 114.5, 113.0, 115.5, 114.1, 116.3, 112.7,
    114.6, 117.0, 115.2, 117.2, 116.1, 118.8, 118.5, 107.8, 120.6, 115.9, 120.6, 120.6,
    120.6, 122.5, 120.8, 122.3, 118.8, 120.3, 114.3, 122.5, 124.3, 119.8, 121.8, 123.4,
    118.6, 123.2, 127.4, 125.9, 121.2, 127.4, 116.0, 133.2, 113.0,
]
uk = [
    109.1, 106.9, 108.0, 108.7, 108.9, 108.0, 107.2, 108.5, 109.1, 108.5, 109.6, 109.0,
    109.2, 108.5, 108.6, 109.0, 108.2, 109.2, 108.9, 109.5, 108.8, 109.6, 108.9, 109.2,
    109.6, 108.9, 109.2, 109.6, 109.5, 108.9, 109.6, 109.2, 109.0, 109.6, 109.2, 108.8,
    109.2, 109.0, 108.5, 108.8, 108.0, 107.6, 107.0, 106.5, 105.5, 104.1, 102.5, 100.5,
    98.5, 97.5, 96.8, 96.5, 96.8, 97.0, 97.2, 97.5, 97.5, 98.0, 98.2, 98.5,
    99.0, 99.5, 100.0, 99.8, 100.0, 100.2, 100.5, 100.5, 100.0, 100.2, 100.5, 100.0,
    100.5, 100.0, 99.5, 98.0, 98.5, 98.0, 98.5, 98.2, 98.0, 98.3, 97.5, 97.5,
    97.0, 97.5, 97.0, 96.8, 97.0, 96.0, 97.5, 97.0, 96.5, 97.0, 97.0, 96.8,
    97.0, 97.5, 97.0, 96.8, 97.0, 97.2, 97.5, 97.0, 97.3, 97.5, 97.8, 98.0,
    98.2, 98.0, 98.3, 98.5, 98.3, 98.5, 98.8, 98.5, 98.7, 98.6, 98.8, 98.5,
    98.8, 99.0, 98.7, 98.8, 99.2, 99.0, 99.5, 99.3, 99.0,
]
us = [
    104.5, 104.8, 105.0, 105.0, 105.2, 105.5, 105.6, 105.8, 104.1, 105.1, 106.5, 106.9,
    107.3, 107.4, 107.6, 107.9, 107.8, 108.0, 108.2, 108.3, 108.1, 108.2, 108.2, 109.6,
    108.7, 109.9, 110.2, 110.6, 110.7, 110.9, 111.0, 111.0, 111.1, 110.9, 111.2, 111.1,
    110.9, 110.6, 110.5, 110.3, 110.0, 109.6, 109.4, 108.2, 104.3, 104.0, 102.0, 99.5,
    97.0, 96.0, 94.8, 94.0, 93.3, 92.6, 93.5, 94.5, 94.8, 95.5, 96.2, 96.9,
    97.6, 98.2, 98.9, 99.5, 100.0, 100.4, 101.0, 101.1, 101.2, 101.5, 101.7, 102.0,
    102.3, 101.7, 102.6, 102.5, 103.1, 103.4, 103.8, 104.1, 104.4, 104.9, 105.1, 105.5,
    105.6, 105.8, 105.6, 106.4, 106.6, 106.5, 106.7, 106.2, 106.5, 106.3, 107.0, 107.3,
    107.2, 107.7, 108.2, 108.0, 108.1, 108.3, 108.0, 108.7, 109.2, 109.3, 109.5, 109.8,
    110.0, 110.8, 111.7, 111.9, 112.4, 112.8, 113.2, 113.2, 113.3, 113.7, 114.5, 114.3,
    114.2, 113.8, 113.5, 113.3, 113.1, 113.0, 113.8, 113.7, 113.5,
]

# EViews-style palette
BLUE, RED, GREEN, BLACK = "#0000ff", "#ff0000", "#008000", "#000000"
TEAL, PURPLE, OLIVE, NAVY = "#008080", "#800080", "#808000", "#000080"
MAGENTA, GRAY, SILVER, CYAN, YELLOW = "#ff00ff", "#808080", "#c0c0c0", "#00ffff", "#ffff00"

# name, values, line colour, line width, marker (or None)
series = [
    ("Australia", australia, BLUE, 1.3, None),
    ("Austria", austria, RED, 1.3, None),
    ("Belgium", belgium, GREEN, 1.3, None),
    ("Canada", canada, BLACK, 1.0, None),
    ("Chile", chile, TEAL, 1.3, None),
    ("Czech", czech, PURPLE, 1.3, None),
    ("Denmark", denmark, OLIVE, 1.3, None),
    ("Finland", finland, NAVY, 1.3, None),
    ("France", france, MAGENTA, 1.3, None),
    ("Germany", germany, GRAY, 1.3, dict(symbol="circle", size=10, color=GRAY, line=dict(width=0))),
    ("Greece", greece, SILVER, 1.3, dict(symbol="square", size=11, color=SILVER, line=dict(width=0))),
    ("Hungary", hungary, CYAN, 1.3, None),
    ("Ireland", ireland, YELLOW, 1.6, dict(symbol="square", size=12, color=YELLOW, line=dict(width=0))),
    ("Israel", israel, BLUE, 1.3, None),
    ("Italy", italy, RED, 1.3, None),
    ("Japan", japan, GREEN, 1.3, None),
    ("Korea", korea, BLACK, 1.6, dict(symbol="square", size=12, color="#ffffff", line=dict(color=BLACK, width=1.8))),
    ("Luxembourg", luxembourg, TEAL, 1.3, None),
    ("Mexico", mexico, PURPLE, 1.3, None),
    ("Netherlands", netherlands, OLIVE, 1.3, None),
    ("Norway", norway, NAVY, 1.3, None),
    ("Poland", poland, MAGENTA, 1.3, None),
    ("Portugal", portugal, GRAY, 1.0, None),
    ("Spain", spain, SILVER, 1.3, None),
    ("Sweden", sweden, CYAN, 1.3, None),
    ("Switzerland", switzerland, YELLOW, 1.3, None),
    ("Turkey", turkey, BLUE, 1.8, dict(symbol="asterisk-open", size=13, color=BLUE, line=dict(color=BLUE, width=1.6))),
    ("UK", uk, RED, 1.3, None),
    ("US", us, GREEN, 1.6, dict(symbol="triangle-up", size=11, color="#006400", line=dict(width=0))),
]

fig = go.Figure()

for name, vals, color, width, marker in series:
    fig.add_trace(go.Scatter(
        x=month_dates, y=vals, name=name,
        mode="lines+markers" if marker else "lines",
        line=dict(color=color, width=width),
        marker=marker if marker else None,
        showlegend=False, hoverinfo="skip",
    ))

# ---------------------------------------------------------------
# Boxed legend: 3 columns x 10 rows, drawn on an inset pixel-scaled axis
# ---------------------------------------------------------------
W, H = 1713, 1056
ML, MR, MT, MB = 88, 2, 23, 60
PW, PH = W - ML - MR, H - MT - MB

LEG_X0, LEG_X1, LEG_Y0, LEG_Y1 = 455, 1257, 33, 248
ROW_Y0, ROW_STEP = 48, 20.5
COL_LINE = [(470, 552), (708, 789), (982, 1065)]
COL_TEXT = [563, 801, 1077]

fig.update_layout(
    xaxis3=dict(domain=[(LEG_X0 - ML) / PW, (LEG_X1 - ML) / PW], range=[LEG_X0, LEG_X1],
                visible=False, fixedrange=True, anchor="y3"),
    yaxis3=dict(domain=[(MT + PH - LEG_Y1) / PH, (MT + PH - LEG_Y0) / PH], range=[LEG_Y1, LEG_Y0],
                visible=False, fixedrange=True, anchor="x3"),
)

for i, (name, vals, color, width, marker) in enumerate(series):
    row, col = divmod(i, 3)
    yrow = ROW_Y0 + ROW_STEP * row
    xa, xb = COL_LINE[col]
    fig.add_trace(go.Scatter(
        x=[xa, xb], y=[yrow, yrow], xaxis="x3", yaxis="y3", mode="lines",
        line=dict(color=color, width=max(width, 1.6)), showlegend=False, hoverinfo="skip",
    ))
    if marker:
        fig.add_trace(go.Scatter(
            x=[(xa + xb) / 2], y=[yrow], xaxis="x3", yaxis="y3", mode="markers",
            marker=marker, showlegend=False, hoverinfo="skip",
        ))
    fig.add_trace(go.Scatter(
        x=[COL_TEXT[col]], y=[yrow], xaxis="x3", yaxis="y3", mode="text",
        text=[f'<span style="letter-spacing:1.8px">{name}</span>'],
        textposition="middle right",
        textfont=dict(family="DejaVu Sans", size=19, color="#333333", weight="bold"),
        showlegend=False, hoverinfo="skip",
    ))

shapes = []
# legend box with a soft drop shadow
shapes.append(dict(type="rect", xref="x3", yref="y3", x0=LEG_X0 + 3, x1=LEG_X1 + 3, y0=LEG_Y0 + 3, y1=LEG_Y1 + 3,
                   line=dict(width=0), fillcolor="#9a9a9a", layer="below"))
shapes.append(dict(type="rect", xref="x3", yref="y3", x0=LEG_X0, x1=LEG_X1, y0=LEG_Y0, y1=LEG_Y1,
                   line=dict(color="#3a3a3a", width=1.6), fillcolor="#ffffff", layer="below"))

# grey page background fading downwards in the left margin, light band on top
def px_x(p):
    return (p - ML) / PW

def px_y(p):
    return (MT + PH - p) / PH

N_BANDS = 30
for k in range(N_BANDS):
    y0 = MT + (H - MT) * k / N_BANDS
    y1 = MT + (H - MT) * (k + 1) / N_BANDS
    g = int(round(245 - (245 - 216) * (k + 0.5) / N_BANDS))
    shapes.append(dict(type="rect", xref="paper", yref="paper", x0=px_x(0), x1=px_x(ML - 1),
                       y0=px_y(y1), y1=px_y(y0), line=dict(width=0),
                       fillcolor=f"rgb({g},{g},{g})", layer="below"))
shapes.append(dict(type="rect", xref="paper", yref="paper", x0=px_x(0), x1=px_x(W),
                   y0=px_y(MT), y1=px_y(10), line=dict(width=0), fillcolor="#f3f3f3", layer="below"))
shapes.append(dict(type="rect", xref="paper", yref="paper", x0=px_x(0), x1=px_x(W),
                   y0=px_y(10), y1=px_y(0), line=dict(width=0), fillcolor="#ffffff", layer="below"))

# faint banner marks along the very top edge of the page
for xl, xr in [(143, 207), (293, 343), (410, 467), (600, 665), (765, 820)]:
    path = (f"M {px_x(xl)},{px_y(0)} L {px_x(xr)},{px_y(0)} "
            f"L {px_x(xr - 10)},{px_y(7)} L {px_x(xl + 10)},{px_y(7)} Z")
    shapes.append(dict(type="path", xref="paper", yref="paper", path=path,
                       line=dict(width=0), fillcolor="#e4e4e4", layer="below"))

AXIS_COLOR = "#2a2a2a"
fig.update_layout(
    width=W, height=H,
    margin=dict(l=ML, r=MR, t=MT, b=MB, pad=0, autoexpand=False),
    paper_bgcolor="#dadada",
    plot_bgcolor="#ffffff",
    showlegend=False,
    shapes=shapes,
    xaxis=dict(
        type="date", range=["2005-01-01", "2015-10-01"], automargin=False,
        tick0="2005-01-01", dtick="M12", tickformat="%Y", ticklabelmode="period",
        ticks="outside", ticklen=18, tickwidth=1.6, tickcolor=AXIS_COLOR,
        minor=dict(ticks="outside", ticklen=10, tickwidth=1.3, tickcolor=AXIS_COLOR,
                   dtick="M1", tick0="2005-01-01", showgrid=False),
        showline=True, linecolor=AXIS_COLOR, linewidth=2, mirror=True,
        showgrid=False, zeroline=False,
        tickfont=dict(family="Liberation Sans, Arial", size=32, color="#1e1e1e"),
        ticklabelstandoff=-5,
    ),
    yaxis=dict(
        range=[60, 160], tickmode="array", tickvals=list(range(60, 161, 10)), automargin=False,
        ticks="outside", ticklen=15, tickwidth=1.6, tickcolor=AXIS_COLOR,
        showline=True, linecolor=AXIS_COLOR, linewidth=2, mirror=True,
        showgrid=False, zeroline=False,
        tickfont=dict(family="Liberation Sans, Arial", size=31, color="#1e1e1e"),
        ticklabelstandoff=0,
    ),
)

fig.write_html("out.html")
